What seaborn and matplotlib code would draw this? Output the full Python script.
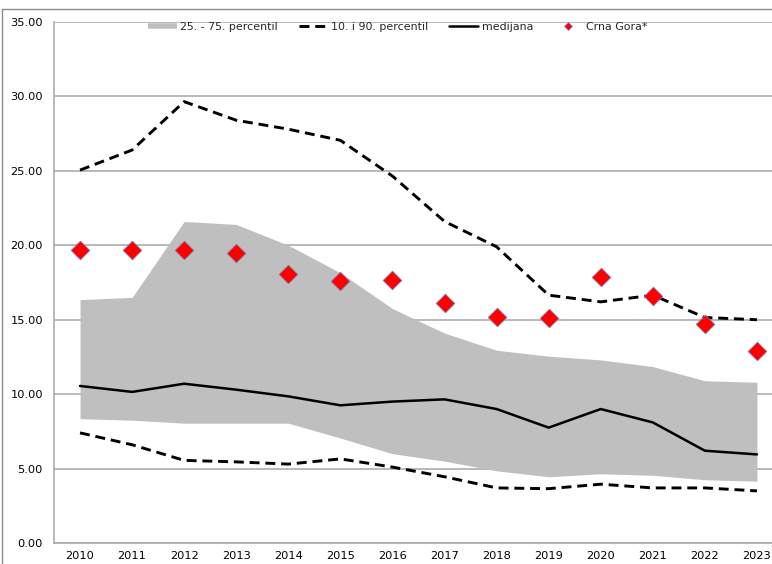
import numpy as np
import pandas as pd
import matplotlib
matplotlib.use("Agg")
import matplotlib.pyplot as plt
import seaborn as sns
from matplotlib.lines import Line2D

years = [2010, 2011, 2012, 2013, 2014, 2015, 2016, 2017, 2018, 2019, 2020, 2021, 2022, 2023]
p10 = [7.4, 6.6, 5.55, 5.45, 5.3, 5.65, 5.1, 4.45, 3.7, 3.65, 3.95, 3.7, 3.7, 3.5]
p25 = [8.35, 8.25, 8.05, 8.05, 8.05, 7.05, 6.0, 5.5, 4.85, 4.45, 4.65, 4.55, 4.25, 4.15]
median = [10.55, 10.15, 10.7, 10.3, 9.85, 9.25, 9.5, 9.65, 9.0, 7.75, 9.0, 8.1, 6.2, 5.95]
p75 = [16.35, 16.5, 21.6, 21.4, 20.0, 18.15, 15.75, 14.1, 12.95, 12.55, 12.3, 11.85, 10.9, 10.8]
p90 = [25.05, 26.4, 29.65, 28.4, 27.8, 27.05, 24.65, 21.6, 19.9, 16.65, 16.2, 16.65, 15.15, 15.0]
crna_gora = [19.7, 19.7, 19.7, 19.5, 18.05, 17.6, 17.7, 16.1, 15.2, 15.1, 17.9, 16.6, 14.7, 12.9]
legend_labels = ["25. - 75. percentil", "10. i 90. percentil", "medijana", "Crna Gora*"]
yticks = [0, 5, 10, 15, 20, 25, 30, 35]

df = pd.DataFrame({"year": years, "p10": p10, "p25": p25, "median": median,
                   "p75": p75, "p90": p90, "cg": crna_gora})

sns.set_style("white")
plt.rcParams["font.family"] = ["DejaVu Sans"]

W, H = 772, 564
fig = plt.figure(figsize=(W / 100, H / 100), dpi=100)
ax = fig.add_axes([54 / W, (H - 543) / H, (783 - 54) / W, (543 - 22) / H])

grid_c = "#A6A6A6"
band_c = "#BFBFBF"
edge_c = "#6F8FC8"

ax.fill_between(df["year"], df["p25"], df["p75"], color=band_c, lw=0, zorder=1)
dash = (0, (3.4, 2.0))
sns.lineplot(data=df, x="year", y="p90", color="black", linewidth=2.1, linestyle=dash, ax=ax, zorder=3)
sns.lineplot(data=df, x="year", y="p10", color="black", linewidth=2.1, linestyle=dash, ax=ax, zorder=3)
sns.lineplot(data=df, x="year", y="median", color="black", linewidth=1.8, ax=ax, zorder=3)
sns.scatterplot(data=df, x="year", y="cg", marker="D", s=92, color="#FF0000",
                edgecolor=edge_c, linewidth=0.5, ax=ax, zorder=4)

ax.set_xlim(2009.5, 2023.5)
ax.set_ylim(0, 35)
ax.set_yticks(yticks)
ax.set_yticklabels([f"{v:.2f}" for v in yticks])
ax.set_xticks(years)
ax.set_xticklabels([str(y) for y in years])
ax.set_xticks([y + 0.5 for y in years], minor=True)
ax.set_xlabel("")
ax.set_ylabel("")

ax.yaxis.grid(True, color=grid_c, linewidth=1.1, zorder=0)
ax.xaxis.grid(False)
ax.set_axisbelow(True)
for s in ["top", "right"]:
    ax.spines[s].set_visible(False)
for s in ["left", "bottom"]:
    ax.spines[s].set_color(grid_c)
    ax.spines[s].set_linewidth(1.1)

ax.tick_params(axis="y", which="major", direction="out", length=4, width=1, color=grid_c,
               labelsize=8.2, pad=4, labelcolor="#000000")
ax.tick_params(axis="x", which="major", length=0, labelsize=8.2, pad=6, labelcolor="#000000")
ax.tick_params(axis="x", which="minor", direction="out", length=4, width=1, color=grid_c)

handles = [
    Line2D([0], [0], color=band_c, lw=4, solid_capstyle="butt"),
    Line2D([0], [0], color="black", lw=2.1, linestyle=dash),
    Line2D([0], [0], color="black", lw=1.8),
    Line2D([0], [0], color="none", marker="D", markersize=4.5, markerfacecolor="#FF0000",
           markeredgecolor=edge_c, markeredgewidth=0.5),
]
fig.legend(handles, legend_labels, loc="center left", bbox_to_anchor=(148 / W, 1 - 27 / H),
           ncol=4, frameon=False, fontsize=7.9, handlelength=2.6, handletextpad=0.35,
           columnspacing=1.9, borderpad=0, borderaxespad=0)

border_c = "#8C8C8C"
fig.add_artist(Line2D([2 / W, 1], [1 - 9 / H, 1 - 9 / H], color=border_c, lw=1, transform=fig.transFigure))
fig.add_artist(Line2D([2 / W, 2 / W], [0, 1 - 9 / H], color=border_c, lw=1, transform=fig.transFigure))

fig.savefig("out.png", dpi=100)
